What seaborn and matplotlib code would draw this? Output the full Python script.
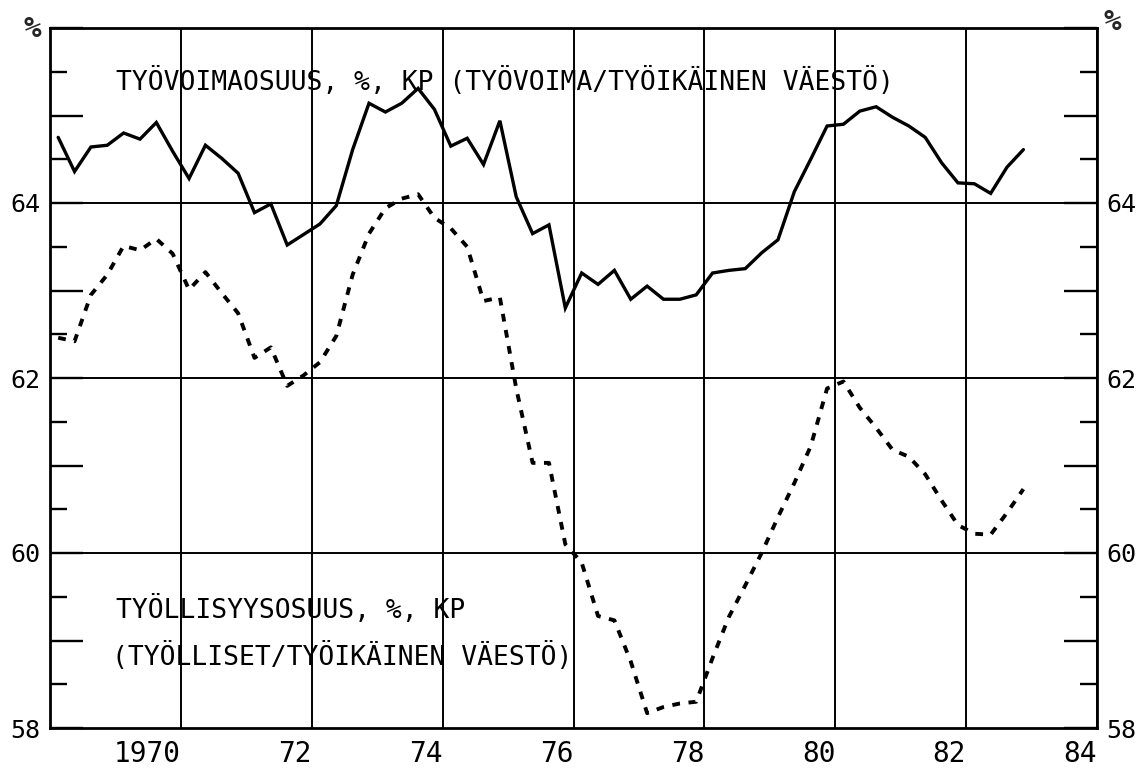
import matplotlib
matplotlib.use("Agg")
import numpy as np
import pandas as pd
import matplotlib.pyplot as plt
import seaborn as sns
from matplotlib.ticker import FixedLocator, FixedFormatter

# ---------------- data (quarterly, seasonally adjusted) ----------------
quarters = pd.period_range("1968Q1", "1982Q4", freq="Q")

labour_force_rate = [
    64.75, 64.36, 64.64, 64.66, 64.80, 64.73, 64.92, 64.59,
    64.28, 64.66, 64.51, 64.34, 63.89, 63.99, 63.52, 63.64,
    63.76, 63.97, 64.61, 65.14, 65.04, 65.14, 65.31, 65.07,
    64.65, 64.74, 64.44, 64.94, 64.07, 63.65, 63.75, 62.80,
    63.20, 63.07, 63.23, 62.90, 63.05, 62.90, 62.90, 62.95,
    63.20, 63.23, 63.25, 63.43, 63.58, 64.13, 64.50, 64.88,
    64.90, 65.05, 65.10, 64.98, 64.88, 64.75, 64.46, 64.23,
    64.22, 64.11, 64.41, 64.61,
]

employment_rate = [
    62.46, 62.42, 62.95, 63.18, 63.51, 63.46, 63.59, 63.42,
    63.01, 63.21, 62.97, 62.74, 62.23, 62.35, 61.91, 62.03,
    62.18, 62.48, 63.18, 63.65, 63.94, 64.05, 64.10, 63.83,
    63.71, 63.50, 62.88, 62.92, 61.88, 61.03, 61.03, 60.10,
    59.89, 59.28, 59.23, 58.76, 58.17, 58.24, 58.28, 58.30,
    58.80, 59.27, 59.63, 60.00, 60.41, 60.80, 61.22, 61.88,
    61.96, 61.66, 61.43, 61.18, 61.10, 60.90, 60.60, 60.32,
    60.22, 60.21, 60.46, 60.73,
]

x_ticks = [1970, 1972, 1974, 1976, 1978, 1980, 1982, 1984]
x_tick_labels = ["1970", "72", "74", "76", "78", "80", "82", "84"]
y_label_values = [58, 60, 62, 64]
y_tick_labels = ["58", "60", "62", "64"]

title_lf = "TYÖVOIMAOSUUS, %, KP (TYÖVOIMA/TYÖIKÄINEN VÄESTÖ)"
title_emp_1 = "TYÖLLISYYSOSUUS, %, KP"
title_emp_2 = "(TYÖLLISET/TYÖIKÄINEN VÄESTÖ)"
unit_label = "%"

# ---------------- styling ----------------
sns.set_theme(style="white")
plt.rcParams["font.family"] = ["DejaVu Sans Mono", "DejaVu Sans"]
plt.rcParams["axes.edgecolor"] = "black"

t = quarters.year + (quarters.quarter - 0.5) / 4.0
df = pd.DataFrame({"t": np.asarray(t, dtype=float),
                   "lf": labour_force_rate,
                   "emp": employment_rate})

W, H = 1146, 768
fig = plt.figure(figsize=(W / 100, H / 100), dpi=100)
fig.patch.set_facecolor("white")
ax = fig.add_axes([50 / W, 40 / H, 1047 / W, 700 / H])
ax.set_facecolor("white")

sns.lineplot(data=df, x="t", y="lf", color="black", linewidth=2.4, ax=ax,
             solid_joinstyle="miter")
sns.lineplot(data=df, x="t", y="emp", color="black", linewidth=2.8, ax=ax,
             linestyle=(0, (2.0, 2.2)))

ax.set_xlim(1968, 1984)
ax.set_ylim(58, 66)
ax.set_xlabel("")
ax.set_ylabel("")

# x axis
ax.set_xticks(x_ticks)
ax.set_xticklabels(x_tick_labels, ha="right", fontsize=20)
ax.tick_params(axis="x", length=0, pad=9, colors="black")
ax.grid(axis="x", color="black", linewidth=1.4)
ax.grid(axis="y", visible=False)

# horizontal grid lines at the labelled values (except frame)
for v in y_label_values[1:]:
    ax.axhline(v, color="black", linewidth=1.4, zorder=1)

# y axis: long ticks at integers, short at halves, labels on both sides
ymin, ymax = 58, 66
major_vals = list(range(ymin, ymax + 1))
major_labels = [y_tick_labels[y_label_values.index(v)] if v in y_label_values else ""
                for v in major_vals]
ax.yaxis.set_major_locator(FixedLocator(major_vals))
ax.yaxis.set_major_formatter(FixedFormatter(major_labels))
ax.yaxis.set_minor_locator(FixedLocator([v + 0.5 for v in major_vals[:-1]]))
ax.tick_params(axis="y", which="both", direction="in", left=True, right=True,
               labelleft=True, labelright=True, colors="black", width=1.7)
ax.tick_params(axis="y", which="major", length=24, pad=7, labelsize=18)
ax.tick_params(axis="y", which="minor", length=12)

for s in ax.spines.values():
    s.set_visible(True)
    s.set_linewidth(2.0)
    s.set_color("black")

# in-chart texts
ax.text(0.063, 0.911, title_lf, transform=ax.transAxes, fontsize=19,
        ha="left", va="baseline", color="black")
ax.text(0.063, 0.157, title_emp_1, transform=ax.transAxes, fontsize=19,
        ha="left", va="baseline", color="black")
ax.text(0.059, 0.090, title_emp_2, transform=ax.transAxes, fontsize=19,
        ha="left", va="baseline", color="black")

# unit labels
fig.text(32 / W, 1 - 29 / H, unit_label, fontsize=21, fontweight="bold",
         ha="center", va="center")
fig.text(1112 / W, 1 - 22 / H, unit_label, fontsize=21, fontweight="bold",
         ha="center", va="center")

fig.savefig("out.png", dpi=100, facecolor="white")
